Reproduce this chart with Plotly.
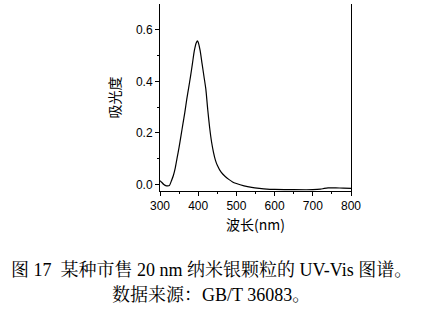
import plotly.graph_objects as go

wavelength = [300, 305, 310, 315, 320, 325, 330, 335, 340, 345, 350, 355, 360, 365, 370,
              375, 380, 385, 390, 395, 398, 400, 405, 410, 415, 420, 425, 430, 435, 440,
              445, 450, 460, 470, 480, 490, 500, 520, 540, 560, 580, 600, 650, 700, 720,
              730, 740, 760, 780, 800]
absorbance = [0.015, 0.008, 0.0, -0.004, -0.005, -0.003, 0.015, 0.035, 0.065, 0.105, 0.145,
              0.19, 0.235, 0.28, 0.33, 0.375, 0.42, 0.47, 0.52, 0.55, 0.557, 0.552, 0.52,
              0.47, 0.42, 0.37, 0.29, 0.22, 0.165, 0.125, 0.095, 0.075, 0.048, 0.032, 0.02,
              0.01, 0.004, -0.005, -0.011, -0.015, -0.018, -0.019, -0.02, -0.02, -0.018,
              -0.015, -0.013, -0.013, -0.014, -0.015]

x_title = "波长(nm)"
y_title = "吸光度"
caption1 = "图 17  某种市售 20 nm 纳米银颗粒的 UV-Vis 图谱。"
caption2 = "数据来源：GB/T 36083。"

W, H = 422, 310
ML, MR, MT, MB = 160, 71, 4, 119

fig = go.Figure()
fig.add_trace(go.Scatter(x=wavelength, y=absorbance, mode="lines",
                         line=dict(color="black", width=1.2, shape="spline", smoothing=0.6),
                         showlegend=False, hoverinfo="skip"))

axis_font = dict(family="Liberation Sans, Arial, sans-serif", size=12, color="black")
title_font = dict(family="Noto Sans CJK SC, Liberation Sans", size=14, color="black")
fig.update_layout(
    width=W, height=H,
    margin=dict(l=ML, r=MR, t=MT, b=MB),
    paper_bgcolor="white", plot_bgcolor="white",
    font=axis_font,
    xaxis=dict(range=[300, 800], tickvals=[300, 400, 500, 600, 700, 800],
               ticks="outside", ticklen=4, tickwidth=1, tickcolor="black",
               showline=True, linecolor="black", linewidth=1, mirror=False,
               showgrid=False, zeroline=False, tickfont=axis_font,
               minor=dict(tickvals=[350, 450, 550, 650, 750], ticks="outside",
                          ticklen=2, tickcolor="black", showgrid=False),
               title=dict(text=x_title, font=title_font, standoff=7)),
    yaxis=dict(range=[-0.025, 0.70], tickvals=[0.0, 0.2, 0.4, 0.6],
               ticktext=["0.0", "0.2", "0.4", "0.6"],
               ticks="outside", ticklen=4, tickwidth=1, tickcolor="black",
               showline=True, linecolor="black", linewidth=1, mirror=True,
               showgrid=False, zeroline=False, tickfont=axis_font,
               minor=dict(tickvals=[0.1, 0.3, 0.5], ticks="outside",
                          ticklen=2, tickcolor="black", showgrid=False),
               title=dict(text=y_title, font=title_font, standoff=12)),
)

# caption centred on the whole figure, not the plot area
cx = (W / 2 - ML) / (W - ML - MR)
cap_font = dict(family="Liberation Serif, Noto Serif CJK SC, Noto Sans CJK SC, serif", size=18, color="black")
fig.add_annotation(text=caption1, xref="paper", yref="paper", x=cx, y=0, xanchor="center",
                   yanchor="middle", yshift=-79, showarrow=False, font=cap_font)
fig.add_annotation(text=caption2, xref="paper", yref="paper", x=cx, y=0, xanchor="center",
                   yanchor="middle", yshift=-104, showarrow=False, font=cap_font)

fig.write_html("out.html", config={"displayModeBar": False},
               post_script="document.body.style.margin='0';")
